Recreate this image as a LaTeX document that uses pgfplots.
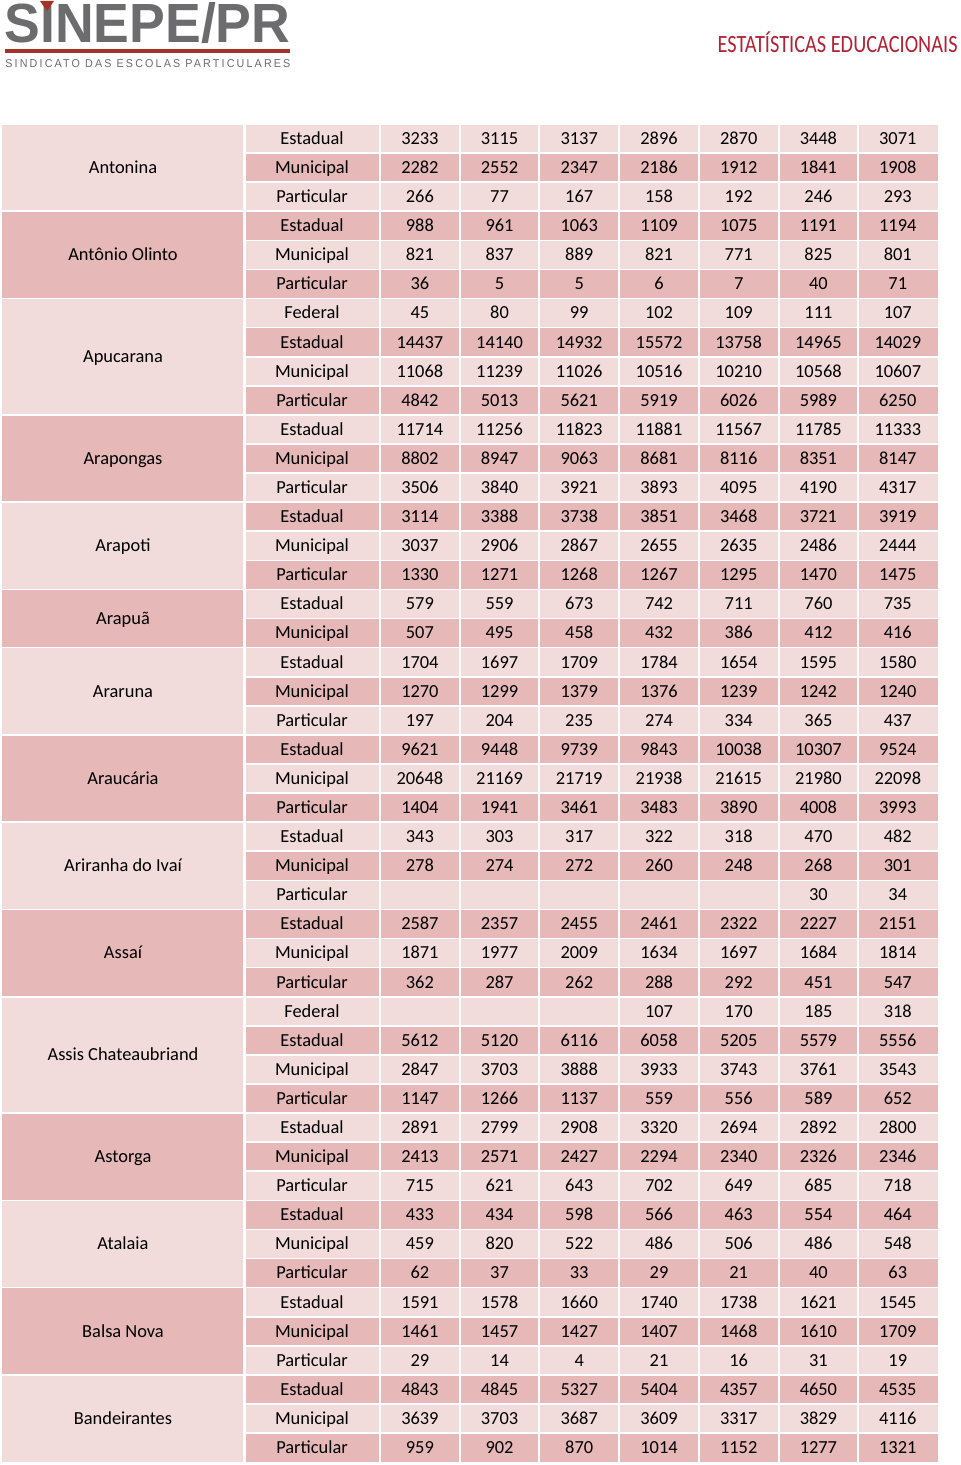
\documentclass[border=0pt]{standalone}
\usepackage{fontspec}
\setmainfont{Carlito}
\newfontfamily\logofont{Liberation Sans}
\usepackage{graphicx}
\usepackage{pgfplots}
\usepackage{pgfplotstable}
\pgfplotsset{compat=1.18}
\definecolor{titlered}{RGB}{178,34,52}
\definecolor{logogray}{RGB}{108,108,110}
\definecolor{logored}{RGB}{165,50,40}
\newcommand\tabfont{\fontsize{9.2}{11}\selectfont}

\pgfplotstableread{
r type v1 v2 v3 v4 v5 v6 v7
0 Estadual 3233 3115 3137 2896 2870 3448 3071
1 Municipal 2282 2552 2347 2186 1912 1841 1908
2 Particular 266 77 167 158 192 246 293
3 Estadual 988 961 1063 1109 1075 1191 1194
4 Municipal 821 837 889 821 771 825 801
5 Particular 36 5 5 6 7 40 71
6 Federal 45 80 99 102 109 111 107
7 Estadual 14437 14140 14932 15572 13758 14965 14029
8 Municipal 11068 11239 11026 10516 10210 10568 10607
9 Particular 4842 5013 5621 5919 6026 5989 6250
10 Estadual 11714 11256 11823 11881 11567 11785 11333
11 Municipal 8802 8947 9063 8681 8116 8351 8147
12 Particular 3506 3840 3921 3893 4095 4190 4317
13 Estadual 3114 3388 3738 3851 3468 3721 3919
14 Municipal 3037 2906 2867 2655 2635 2486 2444
15 Particular 1330 1271 1268 1267 1295 1470 1475
16 Estadual 579 559 673 742 711 760 735
17 Municipal 507 495 458 432 386 412 416
18 Estadual 1704 1697 1709 1784 1654 1595 1580
19 Municipal 1270 1299 1379 1376 1239 1242 1240
20 Particular 197 204 235 274 334 365 437
21 Estadual 9621 9448 9739 9843 10038 10307 9524
22 Municipal 20648 21169 21719 21938 21615 21980 22098
23 Particular 1404 1941 3461 3483 3890 4008 3993
24 Estadual 343 303 317 322 318 470 482
25 Municipal 278 274 272 260 248 268 301
26 Particular {} {} {} {} {} 30 34
27 Estadual 2587 2357 2455 2461 2322 2227 2151
28 Municipal 1871 1977 2009 1634 1697 1684 1814
29 Particular 362 287 262 288 292 451 547
30 Federal {} {} {} 107 170 185 318
31 Estadual 5612 5120 6116 6058 5205 5579 5556
32 Municipal 2847 3703 3888 3933 3743 3761 3543
33 Particular 1147 1266 1137 559 556 589 652
34 Estadual 2891 2799 2908 3320 2694 2892 2800
35 Municipal 2413 2571 2427 2294 2340 2326 2346
36 Particular 715 621 643 702 649 685 718
37 Estadual 433 434 598 566 463 554 464
38 Municipal 459 820 522 486 506 486 548
39 Particular 62 37 33 29 21 40 63
40 Estadual 1591 1578 1660 1740 1738 1621 1545
41 Municipal 1461 1457 1427 1407 1468 1610 1709
42 Particular 29 14 4 21 16 31 19
43 Estadual 4843 4845 5327 5404 4357 4650 4535
44 Municipal 3639 3703 3687 3609 3317 3829 4116
45 Particular 959 902 870 1014 1152 1277 1321
}\rows

\pgfplotstableread{
name r0 n c
Antonina 0 3 0
{Antônio Olinto} 3 3 1
Apucarana 6 4 0
Arapongas 10 3 1
Arapoti 13 3 0
Arapuã 16 2 1
Araruna 18 3 0
Araucária 21 3 1
{Ariranha do Ivaí} 24 3 0
Assaí 27 3 1
{Assis Chateaubriand} 30 4 0
Astorga 34 3 1
Atalaia 37 3 0
{Balsa Nova} 40 3 1
Bandeirantes 43 3 0
}\cities

\pgfplotstableread{
x y
244.3 124
379.7 124
459.6 124
539.3 124
619.2 124
698.9 124
778.6 124
858.3 124
}\gridcols

\begin{document}
\begin{tikzpicture}
\begin{axis}[
  width=480pt, height=732.5pt, scale only axis,
  xmin=0, xmax=960, ymin=0, ymax=1465, y dir=reverse,
  hide axis, clip=false,
  colormap={pinks}{rgb255=(242,220,219) rgb255=(230,184,184)},
  point meta min=0, point meta max=1,
  numtab/.style={draw=none, mark=none,
    nodes near coords={\pgfplotspointmeta},
    point meta=explicit symbolic,
    every node near coord/.append style={anchor=base, yshift=-2.95pt, inner sep=0pt, font=\tabfont, text=black}},
]
% page background
\addplot[fill=white, draw=none] coordinates {(0,0) (960,0) (960,1465) (0,1465) (0,0)};

% city blocks
\addplot[quiver={u=0, v=\thisrow{n}*29.09, colored}, line width=120.5pt, point meta=\thisrow{c}]
  table[x expr=122.5, y expr={124+29.09*\thisrow{r0}}] {\cities};
% row stripes
\addplot[quiver={u=691.5, v=0, colored}, line width=14.55pt, point meta={mod(\thisrow{r},2)}]
  table[x expr=246, y expr={124+29.09*(\thisrow{r}+0.5)}] {\rows};

% white grid
\addplot[quiver={u=0, v=1338.2}, white, line width=1.1pt]
  table[x=x, y=y] {\gridcols};
\addplot[quiver={u=694, v=0}, white, line width=0.8pt]
  table[x expr=244, y expr={124+29.09*\thisrow{r}}] {\rows};
\addplot[quiver={u=243, v=0}, white, line width=0.8pt]
  table[x expr=1, y expr={124+29.09*\thisrow{r0}}] {\cities};

% texts
\addplot[numtab] table[x expr=123, y expr={124+29.09*(\thisrow{r0}+\thisrow{n}/2)}, meta=name] {\cities};
\addplot[numtab] table[x expr=312, y expr={124+29.09*(\thisrow{r}+0.5)}, meta=type] {\rows};
\addplot[numtab] table[x expr=419.9, y expr={124+29.09*(\thisrow{r}+0.5)}, meta=v1] {\rows};
\addplot[numtab] table[x expr=499.5, y expr={124+29.09*(\thisrow{r}+0.5)}, meta=v2] {\rows};
\addplot[numtab] table[x expr=579.2, y expr={124+29.09*(\thisrow{r}+0.5)}, meta=v3] {\rows};
\addplot[numtab] table[x expr=659.0, y expr={124+29.09*(\thisrow{r}+0.5)}, meta=v4] {\rows};
\addplot[numtab] table[x expr=738.7, y expr={124+29.09*(\thisrow{r}+0.5)}, meta=v5] {\rows};
\addplot[numtab] table[x expr=818.4, y expr={124+29.09*(\thisrow{r}+0.5)}, meta=v6] {\rows};
\addplot[numtab] table[x expr=897.8, y expr={124+29.09*(\thisrow{r}+0.5)}, meta=v7] {\rows};

% header
\node[anchor=base east, inner sep=0pt, text=titlered] at (axis cs:958,53)
  {\scalebox{0.82}[1]{\fontsize{12.4}{14}\selectfont ESTATÍSTICAS EDUCACIONAIS}};
\node[anchor=base west, inner sep=0pt, text=logogray] at (axis cs:4,43)
  {\resizebox{143pt}{20pt}{\logofont\bfseries SINEPE/PR}};
\addplot[fill=logored, draw=none] coordinates {(40,1) (54,1) (47,11) (40,1)};
\addplot[logored, line width=1.6pt] coordinates {(5,51) (290,51)};
\node[anchor=base west, inner sep=0pt, text=logogray] at (axis cs:5,68)
  {\resizebox{142.5pt}{4pt}{\logofont\addfontfeature{LetterSpace=20}SINDICATO DAS ESCOLAS PARTICULARES}};
\end{axis}
\pgfresetboundingbox
\path[use as bounding box] (current axis.south west) rectangle (current axis.north east);
\end{tikzpicture}
\end{document}
